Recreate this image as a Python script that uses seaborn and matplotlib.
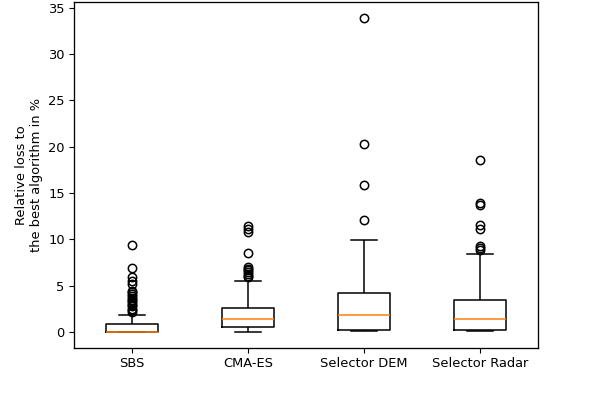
import pandas as pd
import numpy as np
import seaborn as sns
import matplotlib
matplotlib.use('Agg')
import matplotlib.pyplot as plt

matplotlib.rcParams['font.size'] = 9.4
matplotlib.rcParams['xtick.major.size'] = 3.3
matplotlib.rcParams['ytick.major.size'] = 3.3
matplotlib.rcParams['axes.linewidth'] = 0.94

labels = ['SBS', 'CMA-ES', 'Selector DEM', 'Selector Radar']

# relative loss per problem instance (%)
sbs = [0.0] * 42 + [
    0.02, 0.04, 0.06, 0.09, 0.12, 0.15, 0.19, 0.23, 0.28, 0.33, 0.38, 0.44,
    0.5, 0.56, 0.62, 0.68, 0.74, 0.8,
    1.0, 1.83,
    2.2, 2.35, 2.5, 2.8, 2.95, 3.1, 3.3, 3.5, 3.7, 3.9, 4.1, 4.3, 4.45,
    5.2, 5.55, 5.9, 6.9, 9.4]

cma_es = [
    0.03,
    0.05, 0.07, 0.09, 0.11, 0.13, 0.15, 0.17, 0.2, 0.23, 0.26, 0.29, 0.32,
    0.35, 0.38, 0.41, 0.43, 0.45, 0.47, 0.48,
    0.55, 0.59, 0.63, 0.67, 0.71, 0.75, 0.79, 0.83, 0.87, 0.91, 0.95, 0.99,
    1.03, 1.08, 1.13, 1.18, 1.23, 1.27, 1.31, 1.35,
    1.4, 1.46, 1.52, 1.58, 1.64, 1.7, 1.76, 1.83, 1.9, 1.97, 2.04, 2.11,
    2.18, 2.25, 2.31, 2.37, 2.42, 2.47, 2.51, 2.55,
    2.75, 3.0, 3.3, 3.6, 3.9, 4.3, 4.7, 5.1, 5.5,
    5.9, 6.05, 6.25, 6.45, 6.65, 6.85, 7.05, 8.5, 10.8, 11.1, 11.45]

selector_dem = [
    0.07,
    0.08, 0.09, 0.1, 0.1, 0.11, 0.12, 0.12, 0.13, 0.14, 0.14, 0.15, 0.16,
    0.16, 0.17, 0.17, 0.18, 0.18, 0.19, 0.19,
    0.22, 0.27, 0.33, 0.4, 0.47, 0.55, 0.63, 0.71, 0.79, 0.87, 0.96, 1.05,
    1.14, 1.23, 1.33, 1.43, 1.53, 1.63, 1.72, 1.8,
    1.86, 1.95, 2.05, 2.15, 2.25, 2.36, 2.47, 2.58, 2.7, 2.82, 2.94, 3.06,
    3.18, 3.3, 3.42, 3.55, 3.68, 3.82, 3.96, 4.1,
    4.4, 4.7, 5.0, 5.3, 5.6, 5.9, 6.2, 6.5, 6.8, 7.1, 7.5, 7.9, 8.4, 8.9,
    9.4, 9.9,
    12.1, 15.9, 20.3, 33.9]

selector_radar = [
    0.07,
    0.08, 0.09, 0.1, 0.1, 0.11, 0.12, 0.12, 0.13, 0.14, 0.14, 0.15, 0.16,
    0.16, 0.17, 0.17, 0.18, 0.18, 0.19, 0.19,
    0.22, 0.26, 0.3, 0.35, 0.4, 0.45, 0.5, 0.55, 0.61, 0.67, 0.73, 0.79,
    0.86, 0.93, 1.0, 1.07, 1.14, 1.21, 1.28, 1.34,
    1.4, 1.48, 1.56, 1.64, 1.73, 1.82, 1.91, 2.0, 2.1, 2.2, 2.3, 2.41,
    2.52, 2.63, 2.75, 2.87, 3.0, 3.13, 3.26, 3.4,
    3.8, 4.1, 4.4, 4.8, 5.2, 5.6, 6.0, 6.5, 7.0, 7.5, 7.9, 8.37,
    8.8, 9.05, 9.3, 11.1, 11.6, 13.7, 13.9, 18.6]

df = pd.concat([
    pd.DataFrame({'algorithm': name, 'loss': vals})
    for name, vals in zip(labels, [sbs, cma_es, selector_dem, selector_radar])
])

fig, ax = plt.subplots(figsize=(5.98, 3.98), dpi=100)
fig.subplots_adjust(left=0.124, right=0.9, top=0.995, bottom=0.126)

sns.boxplot(data=df, x='algorithm', y='loss', order=labels, ax=ax,
            color='black', fill=False, width=0.45, linewidth=1.1,
            fliersize=6,
            medianprops=dict(color='#ff7f0e', linewidth=1.1),
            flierprops=dict(marker='o', markerfacecolor='none',
                            markeredgecolor='black', markeredgewidth=1.1))

ax.set_xlabel('')
ax.set_ylabel('Relative loss to\nthe best algorithm in %')
ax.set_xlim(-0.5, 3.5)
ax.set_ylim(-1.7, 35.6)

plt.savefig('out.png', dpi=100)
